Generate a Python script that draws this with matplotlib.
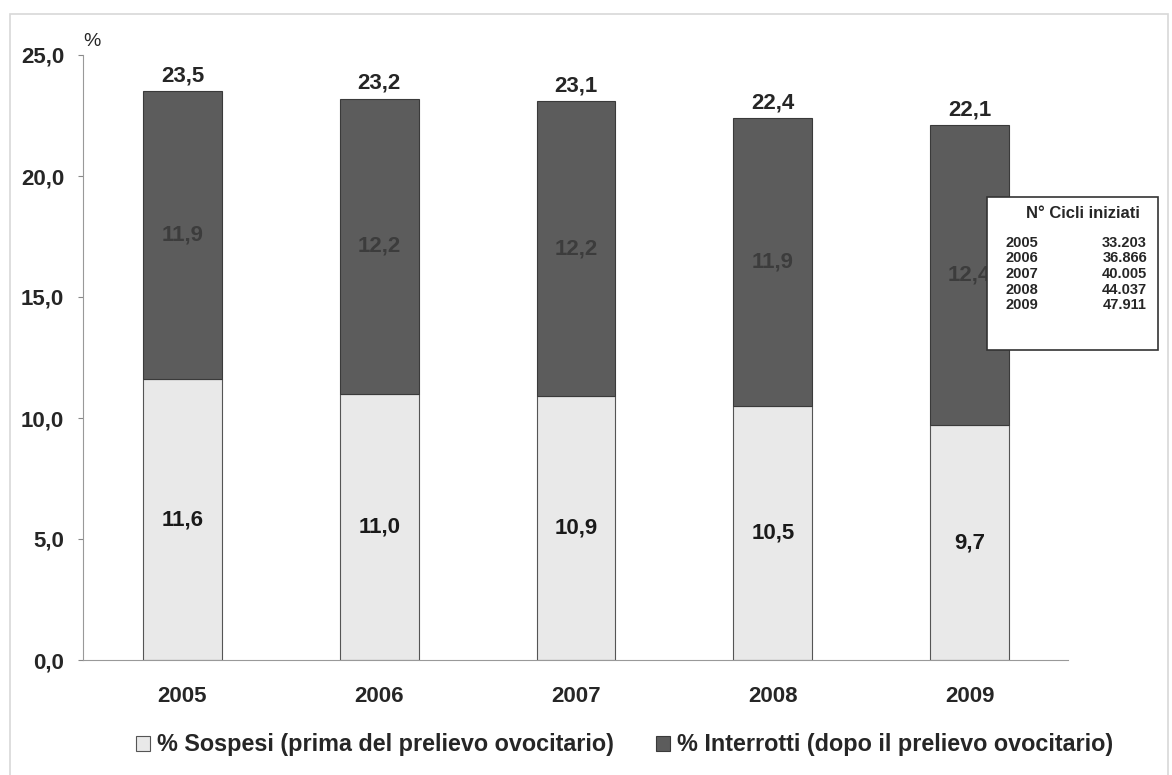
import matplotlib
matplotlib.use("Agg")
import matplotlib.pyplot as plt
from matplotlib.patches import Rectangle

plt.rcParams['font.family'] = ['Liberation Sans', 'DejaVu Sans']

years = ["2005", "2006", "2007", "2008", "2009"]
sospesi = [11.6, 11.0, 10.9, 10.5, 9.7]
interrotti = [11.9, 12.2, 12.2, 11.9, 12.4]
totali = [23.5, 23.2, 23.1, 22.4, 22.1]
cicli = ["33.203", "36.866", "40.005", "44.037", "47.911"]
yticks = [0, 5, 10, 15, 20, 25]

def fmt(v):
    return f"{v:.1f}".replace(".", ",")

light = "#e9e9e9"
dark = "#5c5c5c"
txt = "#262626"
FS = 16

fig = plt.figure(figsize=(11.72, 7.75), dpi=100)
fig.patch.set_facecolor("white")
# outer frame
fig.add_artist(Rectangle((10/1172, -0.01), 1158/1172, (775-14)/775 + 0.01, transform=fig.transFigure,
                         fill=False, edgecolor="#d8d8d8", lw=1.2))

ax = fig.add_axes([83/1172, 1-660/775, (1068-83)/1172, (660-55)/775])
x = list(range(len(years)))
w = 0.40
ax.bar(x, sospesi, width=w, color=light, edgecolor="#555555", lw=0.8, label="% Sospesi (prima del prelievo ovocitario)")
ax.bar(x, interrotti, width=w, bottom=sospesi, color=dark, edgecolor="#3a3a3a", lw=0.8, label="% Interrotti (dopo il prelievo ovocitario)")

for i in x:
    ax.text(i, sospesi[i] / 2, fmt(sospesi[i]), ha="center", va="center", fontsize=FS, fontweight="bold", color="#1a1a1a")
    ax.text(i, sospesi[i] + interrotti[i] / 2, fmt(interrotti[i]), ha="center", va="center", fontsize=FS, fontweight="bold", color="#3c3c3c")
    ax.text(i, totali[i] + 0.2, fmt(totali[i]), ha="center", va="bottom", fontsize=FS, fontweight="bold", color=txt)

ax.set_xlim(-0.505, 4.5)
ax.set_ylim(0, 25)
ax.set_yticks(yticks)
ax.set_yticklabels([fmt(v) for v in yticks], fontsize=FS, fontweight="bold", color=txt)
ax.set_xticks(x)
ax.set_xticklabels(years, fontsize=FS, fontweight="bold", color=txt)
ax.tick_params(axis="x", length=0, pad=19)
ax.tick_params(axis="y", length=3.5, direction="out", color="#888888", pad=10)
for s in ["top", "right"]:
    ax.spines[s].set_visible(False)
ax.spines["left"].set_color("#999999")
ax.spines["bottom"].set_color("#999999")
ax.text(0, 1.008, "%", transform=ax.transAxes, fontsize=14, color=txt, ha="left", va="bottom")

# legend
h, l = ax.get_legend_handles_labels()
leg = fig.legend(h, l, loc="center", bbox_to_anchor=(625/1172, 1-745/775), ncol=2, frameon=False,
                 prop={"size": 16.8, "weight": "bold"}, handlelength=0.6, handleheight=0.6,
                 handletextpad=0.3, columnspacing=1.8)
for t in leg.get_texts():
    t.set_color(txt)

# inset table
fig.add_artist(Rectangle((987/1172, 1-350/775), (1158-987)/1172, (350-197)/775, transform=fig.transFigure,
                         fill=True, facecolor="white", edgecolor="#333333", lw=1.2))
fig.text(1083/1172, 1-214/775, "N° Cicli iniziati", ha="center", va="center", fontsize=12, fontweight="bold", color=txt)
for k, (yr, c) in enumerate(zip(years, cicli)):
    yy = 1 - (243 + k * 15.5) / 775
    fig.text(1005/1172, yy, yr, ha="left", va="center", fontsize=10.5, fontweight="bold", color=txt)
    fig.text(1147/1172, yy, c, ha="right", va="center", fontsize=10.5, fontweight="bold", color=txt)

fig.savefig("out.png", dpi=100)
